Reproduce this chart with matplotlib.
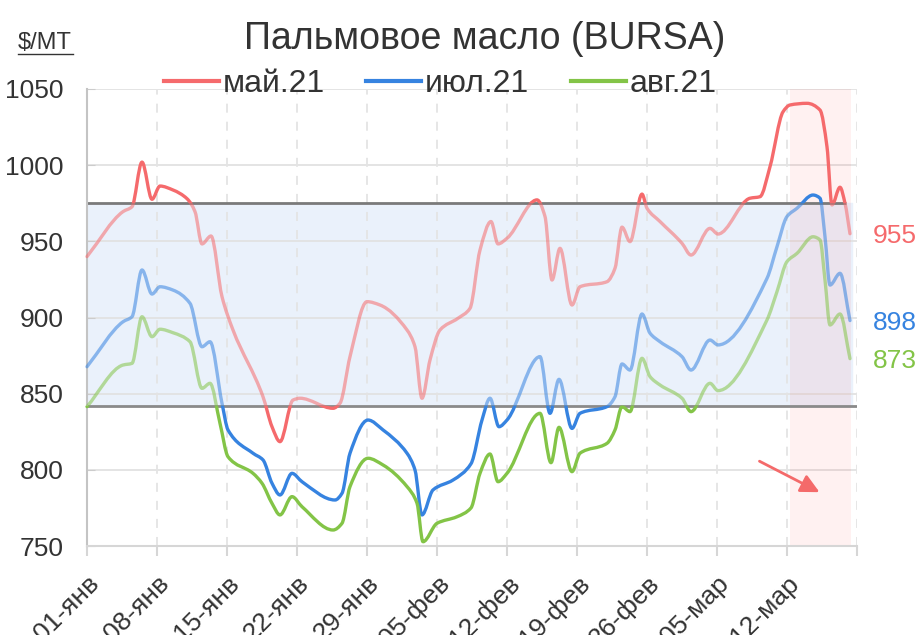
import numpy as np
import matplotlib
matplotlib.use("Agg")
import matplotlib.pyplot as plt
from matplotlib.path import Path
from matplotlib.patches import PathPatch, Rectangle
from matplotlib.lines import Line2D

plt.rcParams['font.family'] = ['Liberation Sans', 'DejaVu Sans']

# data: days since 01-янв 2021, price $/MT
may_day = [0, 3.6, 4.5, 5.5, 6.5, 7.3, 8.6, 10.0, 10.8, 11.5, 12.4, 13.5, 14.6, 17.6, 18.5, 19.3,
           20.6, 21.3, 24.6, 25.3, 26.3, 28.0, 29.3, 32.0, 32.8, 33.5, 34.3, 35.3, 37.1, 38.3,
           39.3, 40.4, 41.1, 42.0, 45.0, 45.8, 46.5, 47.3, 48.5, 49.3, 52.0, 52.8, 53.5, 54.3,
           55.5, 56.0, 57.3, 59.5, 60.4, 62.3, 63.1, 66.3, 67.3, 68.3, 69.6, 70.3, 72.0, 73.3,
           74.0, 74.5, 75.3, 75.8, 76.3]
may_val = [940, 969.5, 972.7, 1002, 977.6, 986.3, 983.7, 978, 969.5, 948.3, 953.5, 913.7, 891.8, 848, 828.3, 818.5,
           845.8, 847, 840.4, 843.7, 874.3, 910.4, 908.2, 891.8, 880.8, 847, 872.1, 891.8, 899.5, 906,
           944.3, 963, 948.3, 952, 977.2, 966.3, 924.6, 945.4, 908.2, 920.2, 923.5, 932.3, 959.3, 949.8,
           981, 971.7, 963, 948.7, 941, 958.5, 954.8, 978.3, 979.3, 999, 1035, 1039.5, 1040.6, 1036.2,
           1012, 973.9, 985.5, 975, 955]

jul_day = [0, 3.6, 4.5, 5.5, 6.5, 7.3, 8.6, 10.3, 11.5, 12.3, 13.5, 14.1, 16.6, 17.6, 18.5, 19.3,
           20.5, 21.5, 24.8, 25.5, 26.3, 28.1, 29.6, 32.0, 32.8, 33.5, 34.6, 36.6, 38.4, 39.5,
           40.3, 41.2, 42.0, 45.3, 46.3, 47.2, 48.5, 49.3, 52.0, 52.8, 53.5, 54.3, 55.5, 56.3,
           57.3, 59.5, 60.4, 62.3, 63.1, 68.0, 69.0, 70.0, 71.0, 72.6, 73.3, 73.8, 74.3, 75.3, 76.3]
jul_val = [867.7, 897.2, 900.5, 931.2, 915.4, 920.2, 918, 909.3, 880.8, 884.1, 843.7, 826.2, 810.9, 806.5, 791.2, 783.5,
           797.7, 792.2, 780.2, 784.6, 810.9, 832.7, 826.2, 810.9, 799.9, 770.4, 786.8, 793.3, 804, 832.7,
           847, 828.3, 832.7, 874.3, 837.1, 859.4, 827.2, 837.1, 841.5, 848, 869.5, 865.5, 902.3, 889.7,
           884.1, 874.3, 865.5, 885.2, 882, 925.7, 946.5, 966.3, 971.7, 980.4, 978.3, 953, 921.3, 929, 898]

aug_day = [0, 3.6, 4.5, 5.5, 6.5, 7.3, 8.6, 10.3, 11.5, 12.3, 13.3, 14.1, 16.6, 17.5, 18.5, 19.3,
           20.5, 21.5, 24.6, 25.5, 26.3, 28.1, 29.6, 32.0, 33.0, 33.6, 35.0, 37.0, 38.4, 39.3,
           40.3, 41.1, 42.0, 45.3, 46.4, 47.2, 48.5, 49.3, 52.0, 52.8, 53.5, 54.3, 55.5, 56.3,
           57.3, 59.5, 60.4, 62.3, 63.1, 68.0, 69.0, 70.0, 71.0, 72.6, 73.3, 73.8, 74.3, 75.3, 76.3]
aug_val = [841.5, 868.8, 869.9, 900.5, 887.4, 892.3, 890, 884.1, 853.5, 856.8, 830.5, 808.6, 797.7, 791.2, 778, 770.4,
           782.4, 775.8, 760.5, 764.9, 789, 807.6, 803.2, 789, 778.1, 752.8, 764.9, 769.2, 775, 797.7,
           810.4, 792.2, 797.7, 837.1, 804.7, 827.9, 798.8, 810.9, 817.4, 826.2, 841.5, 838.2, 873.2, 861.2,
           855.7, 847, 838.2, 856.8, 852, 898.4, 917, 936.7, 942.1, 953, 950.9, 924.6, 895.1, 902.3, 873]

series_names = ['май.21', 'июл.21', 'авг.21']
series_colors = ['#f56a6c', '#3683e0', '#83c447']
last_values = ['955', '898', '873']

tick_days = [0, 7, 14, 21, 28, 35, 42, 49, 56, 63, 70, 77]
tick_labels = ['01-янв', '08-янв', '15-янв', '22-янв', '29-янв', '05-фев', '12-фев',
               '19-фев', '26-фев', '05-мар', '12-мар', '']

band_low, band_high = 842, 975


def smooth_path(xs, ys):
    # monotone cubic (pchip-like) as bezier segments
    x = np.asarray(xs, float)
    y = np.asarray(ys, float)
    h = np.diff(x)
    d = np.diff(y) / h
    m = np.zeros_like(y)
    m[0], m[-1] = d[0], d[-1]
    for k in range(1, len(y) - 1):
        if d[k - 1] * d[k] > 0:
            w1 = 2 * h[k] + h[k - 1]
            w2 = h[k] + 2 * h[k - 1]
            m[k] = (w1 + w2) / (w1 / d[k - 1] + w2 / d[k])
    verts = [(x[0], y[0])]
    codes = [Path.MOVETO]
    for k in range(len(h)):
        verts += [(x[k] + h[k] / 3, y[k] + m[k] * h[k] / 3),
                  (x[k + 1] - h[k] / 3, y[k + 1] - m[k + 1] * h[k] / 3),
                  (x[k + 1], y[k + 1])]
        codes += [Path.CURVE4] * 3
    return Path(verts, codes)


fig = plt.figure(figsize=(9.23, 6.35), dpi=100)
ax = fig.add_axes([87 / 923, 1 - 546 / 635, 770 / 923, 457 / 635])
ax.set_xlim(0, 77)
ax.set_ylim(750, 1050)

# grid
for v in range(800, 1051, 50):
    ax.axhline(v, color='#e2e2e2', lw=1.3, zorder=1.5)
for d in tick_days[1:]:
    ax.axvline(d, color='#e4e4e4', lw=1.3, ls=(0, (5, 5)), zorder=1.5)

# range band
ax.fill_between([0, 76.5], band_low, band_high, color='#eaf1fb', zorder=1)
ax.plot([0, 75.9], [band_high, band_high], color='#7a7a7a', lw=2, zorder=2, solid_capstyle='butt')
ax.plot([0, 77], [band_low, band_low], color='#8a8a8a', lw=2, zorder=2, solid_capstyle='butt')

# highlighted last week
ax.axvspan(70.3, 76.4, color='#ff0000', alpha=0.055, lw=0, zorder=1.8)

# lines: full colour outside band, faded inside
for days, vals, c in zip([may_day, jul_day, aug_day], [may_val, jul_val, aug_val], series_colors):
    path = smooth_path(days, vals)
    for lo, hi, a in [(band_high, 1200, 1.0), (band_low, band_high, 0.55), (600, band_low, 1.0)]:
        p = PathPatch(path, fill=False, edgecolor=c, lw=2.4, alpha=a,
                      capstyle='round', joinstyle='round', zorder=3)
        ax.add_patch(p)
        p.set_clip_path(Rectangle((-5, lo), 100, hi - lo, transform=ax.transData))

# last values
for val, c in zip(last_values, series_colors):
    ax.text(78.6, float(val) - 1.5, val, color=c, fontsize=19, va='center', ha='left', clip_on=False)

# arrow
ax.annotate('', xy=(73.5, 784.5), xytext=(67, 806.5),
            arrowprops=dict(arrowstyle='-|>', color='#f46a6a', lw=2, mutation_scale=28))

# axes style
for s in ['top', 'right']:
    ax.spines[s].set_visible(False)
ax.spines['left'].set_color('#c4c4c4')
ax.spines['left'].set_linewidth(1.5)
ax.spines['bottom'].set_color('#d6d6d6')
ax.spines['bottom'].set_linewidth(1.5)
ax.set_yticks(range(750, 1051, 50))
ax.tick_params(axis='y', direction='in', length=6, color='#cccccc', labelsize=19,
               labelcolor='#333333', pad=17)
ax.set_xticks(tick_days)
ax.set_xticklabels(tick_labels, rotation=45, ha='right', va='top', rotation_mode='anchor')
ax.tick_params(axis='x', direction='out', length=7, color='#d6d6d6', width=1.5, labelsize=19,
               labelcolor='#333333', pad=11)

# legend
handles = [Line2D([], [], color=c, lw=3) for c in series_colors]
fig.legend(handles, series_names, loc='center', bbox_to_anchor=(0.477, 0.868), ncol=3,
           frameon=False, fontsize=23, handlelength=1.72, handletextpad=0.12, columnspacing=1.3,
           labelcolor='#333333')

# title and unit
fig.text(485 / 923, 1 - 39 / 635, 'Пальмовое масло (BURSA)', fontsize=27, ha='center', va='center',
         color='#333333')
fig.text(18 / 923, 1 - 43 / 635, '$/MT', fontsize=17, ha='left', va='center', color='#333333')
fig.add_artist(Line2D([18 / 923, 73 / 923], [1 - 54 / 635, 1 - 54 / 635], color='#333333', lw=1))

fig.savefig('out.png', dpi=100)
